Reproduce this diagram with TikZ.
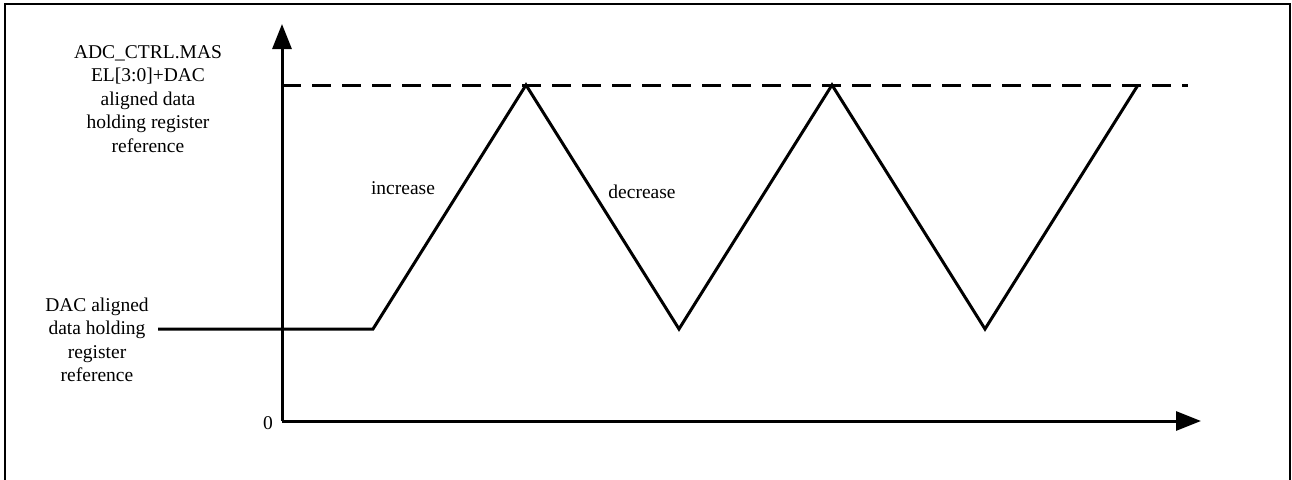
\documentclass[tikz,border=0pt]{standalone}
\usepackage{fontspec}
\setmainfont{Liberation Serif}
\usetikzlibrary{arrows.meta}
\begin{document}
\begin{tikzpicture}[x=1pt,y=-1pt,
  frame/.style={line width=2.5pt},
  axis/.style={line width=3pt,-{Triangle[length=25pt,width=19pt]}},
  wave/.style={line width=3pt,line join=miter},
  refline/.style={line width=3pt,dash pattern=on 19pt off 11pt},
  lbl/.style={inner sep=0pt,align=center,font=\fontsize{19.5pt}{23.5pt}\selectfont}]
\useasboundingbox (0,0) rectangle (1292,479);
\clip (0,0) rectangle (1292,479);
\draw[frame] (5,4) rectangle (1290,500);
% axes
\coordinate (O) at (282,421);
\coordinate (ytip) at (282,24);
\coordinate (xtip) at (1201,421);
\draw[axis] (O) -- (ytip);
\draw[axis] (O) -- (xtip);
% reference max dashed
\coordinate (dstart) at (282,85);
\coordinate (dend) at (1188,85);
\draw[refline] (dstart) -- (dend);
% waveform
\coordinate (w0) at (158,329);
\coordinate (w1) at (373,329);
\coordinate (p1) at (526,85);
\coordinate (v1) at (679,329);
\coordinate (p2) at (832,85);
\coordinate (v2) at (985,329);
\coordinate (p3) at (1138,85);
\draw[wave] (w0) -- (w1) -- (p1) -- (v1) -- (p2) -- (v2) -- (p3);
% labels
\node[lbl] (toplbl) at (148,99) {ADC\_CTRL.MAS\\EL[3:0]+DAC\\aligned data\\holding register\\reference};
\node[lbl] (botlbl) at (97,340) {DAC aligned\\data holding\\register\\reference};
\node[lbl,anchor=east] (zero) at (273,423) {0};
\node[lbl] (inc) at (403,188) {increase};
\node[lbl] (dec) at (642,192) {decrease};
\end{tikzpicture}
\end{document}
